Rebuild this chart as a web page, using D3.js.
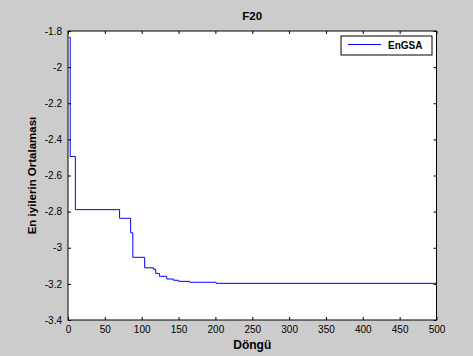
<!DOCTYPE html>
<html><head><meta charset="utf-8">
<script src="https://d3js.org/d3.v7.min.js"></script>
<style>body{margin:0;background:#cccccc}svg{display:block}</style>
</head><body>
<svg id="chart" width="473" height="356"></svg>
<script>
// Data (step function: value holds from each iteration onward)
const iterations = [1, 3, 10, 70, 85, 88, 104, 116, 119, 124, 134, 143, 150, 165, 201, 500];
const values = [-1.835, -2.495, -2.789, -2.837, -2.917, -3.053, -3.111, -3.119, -3.142, -3.158, -3.173, -3.180, -3.186, -3.191, -3.197, -3.197];
const xTicks = [0, 50, 100, 150, 200, 250, 300, 350, 400, 450, 500];
const yTicks = [-1.8, -2, -2.2, -2.4, -2.6, -2.8, -3, -3.2, -3.4];
const yTickLabels = ["-1.8", "-2", "-2.2", "-2.4", "-2.6", "-2.8", "-3", "-3.2", "-3.4"];
const seriesName = "EnGSA";
const titleText = "F20";
const xLabelText = "Döngü";
const yLabelText = "En iyilerin Ortalaması";

const W = 473, H = 356;
const m = {left: 68, right: 436.5, top: 31, bottom: 320};
const svg = d3.select("#chart");
const font = "Arial, 'Liberation Sans', Helvetica, sans-serif";

svg.append("rect").attr("width", W).attr("height", H).attr("fill", "#cccccc");

const x = d3.scaleLinear().domain([0, 500]).range([m.left, m.right]);
const y = d3.scaleLinear().domain([-3.4, -1.8]).range([m.bottom, m.top]);

// plot background
svg.append("rect").attr("x", m.left).attr("y", m.top)
  .attr("width", m.right - m.left).attr("height", m.bottom - m.top)
  .attr("fill", "#ffffff");

// line
const pts = iterations.map((it, i) => [it, values[i]]);
const line = d3.line().x(d => x(d[0])).y(d => y(d[1])).curve(d3.curveStepAfter);
svg.append("path").datum(pts).attr("d", line)
  .attr("fill", "none").attr("stroke", "#0000ff").attr("stroke-width", 1);

// axes
const tickLen = 3;
const fmtY = d => yTickLabels[yTicks.indexOf(d)];
const gB = svg.append("g").attr("transform", `translate(0,${m.bottom})`)
  .call(d3.axisBottom(x).tickValues(xTicks).tickSizeInner(-tickLen).tickSizeOuter(0).tickPadding(6).tickFormat(d3.format("d")));
const gL = svg.append("g").attr("transform", `translate(${m.left},0)`)
  .call(d3.axisLeft(y).tickValues(yTicks).tickSizeInner(-tickLen).tickSizeOuter(0).tickPadding(6).tickFormat(fmtY));
const gT = svg.append("g").attr("transform", `translate(0,${m.top})`)
  .call(d3.axisTop(x).tickValues(xTicks).tickSizeInner(-tickLen).tickSizeOuter(0).tickFormat(""));
const gR = svg.append("g").attr("transform", `translate(${m.right},0)`)
  .call(d3.axisRight(y).tickValues(yTicks).tickSizeInner(-tickLen).tickSizeOuter(0).tickFormat(""));
[gB, gL, gT, gR].forEach(g => {
  g.select(".domain").remove();
  g.selectAll(".tick line").attr("stroke", "#000");
  g.selectAll("text").attr("font-family", font).attr("font-size", 10).attr("fill", "#000");
});

// box
svg.append("rect").attr("x", m.left).attr("y", m.top)
  .attr("width", m.right - m.left).attr("height", m.bottom - m.top)
  .attr("fill", "none").attr("stroke", "#000").attr("stroke-width", 1);

// title and labels
svg.append("text").attr("x", (m.left + m.right) / 2).attr("y", 20)
  .attr("text-anchor", "middle").attr("font-family", font).attr("font-weight", "bold")
  .attr("font-size", 11.5).text(titleText);
svg.append("text").attr("x", (m.left + m.right) / 2).attr("y", 349)
  .attr("text-anchor", "middle").attr("font-family", font).attr("font-weight", "bold")
  .attr("font-size", 12).text(xLabelText);
svg.append("text").attr("transform", `translate(36,${(m.top + m.bottom) / 2}) rotate(-90)`)
  .attr("text-anchor", "middle").attr("font-family", font).attr("font-weight", "bold")
  .attr("font-size", 11.5).text(yLabelText);

// legend
const lg = svg.append("g");
lg.append("rect").attr("x", 341).attr("y", 36).attr("width", 91).attr("height", 19)
  .attr("fill", "#fff").attr("stroke", "#000").attr("stroke-width", 1);
lg.append("line").attr("x1", 348).attr("x2", 381).attr("y1", 44.5).attr("y2", 44.5)
  .attr("stroke", "#0000ff").attr("stroke-width", 1);
lg.append("text").attr("x", 388).attr("y", 49).attr("font-family", font)
  .attr("font-weight", "bold").attr("font-size", 10).text(seriesName);
</script>
</body></html>
